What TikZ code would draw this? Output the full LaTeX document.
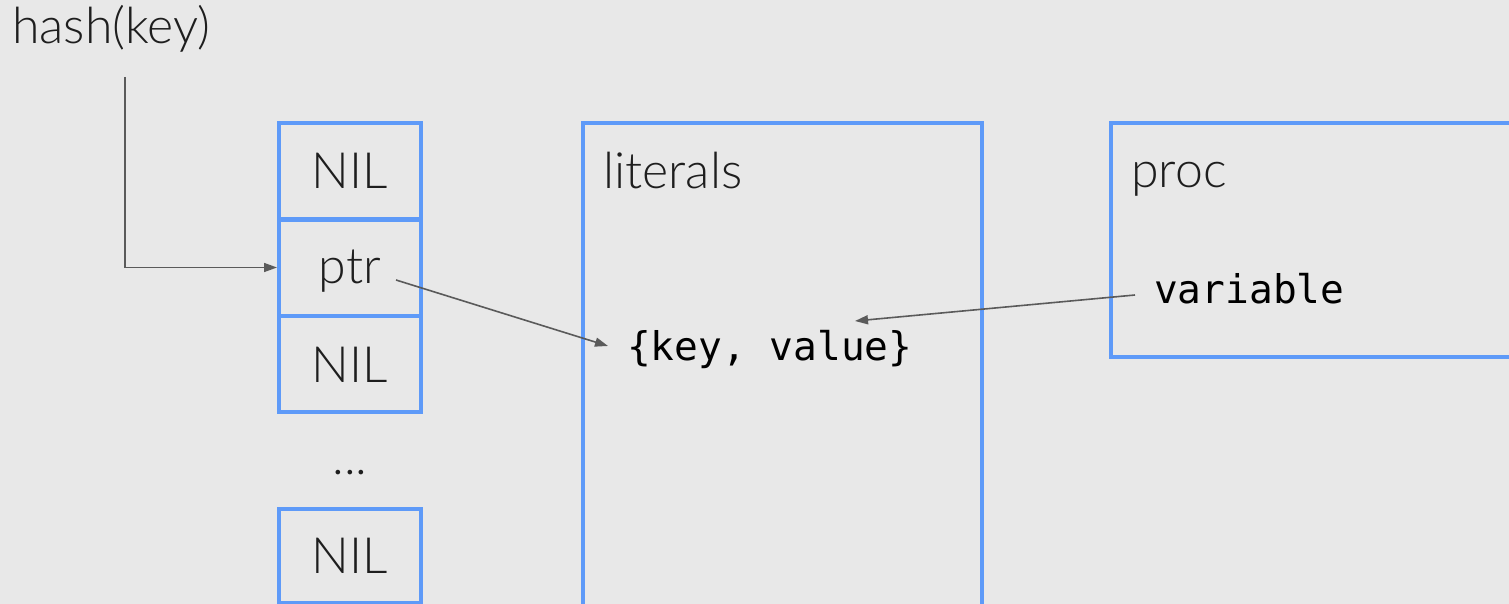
\documentclass[tikz,border=0pt]{standalone}
\usepackage{fontspec}
\setmainfont{Lato Light}
\newfontfamily\codefont{DejaVu Sans Mono}
\usetikzlibrary{arrows.meta}
\definecolor{bg}{HTML}{E8E8E8}
\definecolor{cellblue}{HTML}{5E9AF8}
\definecolor{wire}{HTML}{5A5A5A}
\definecolor{ink}{HTML}{1E1E1E}

\begin{document}
\begin{tikzpicture}[x=1pt,y=-1pt,
  labelfont/.style={font=\fontsize{50}{60}\selectfont, text=ink},
  codetext/.style={font=\codefont\fontsize{39.5}{46}\selectfont, text=black},
  cell/.style={draw=cellblue, line width=4pt, minimum width=142pt,
    minimum height=96pt, inner sep=0pt, text height=36pt, text depth=0pt, labelfont},
  region/.style={draw=cellblue, line width=4pt, inner sep=0pt},
  tag/.style={labelfont, anchor=base west, inner sep=0pt},
  conn/.style={draw=wire, line width=1.6pt, -{Triangle[length=13pt,width=9pt]}}
]
% canvas
\fill[bg] (0,0) rectangle (1509,604);
\clip (0,0) rectangle (1509,604);

% key label and the hash table column
\node[tag] (hash) at (12,44) {hash(key)};
\node[cell] (c0) at (350,171) {NIL};
\node[cell] (c1) at (350,267.5) {};
\node[labelfont, anchor=base, inner sep=0pt] (ptr) at (350,283) {ptr};
\node[cell] (c2) at (350,364) {NIL};
\node[labelfont, anchor=base, inner sep=0pt] (dots) at (350,474) {...};
\node[cell, minimum height=94pt] (cn) at (350,555.5) {NIL};

% memory regions
\node[region, minimum width=399pt, minimum height=500pt] (lit) at (782.5,373) {};
\node[tag] (littag) at (603,189) {literals};
\node[region, minimum width=420pt, minimum height=234pt] (proc) at (1321,240) {};
\node[tag] (proctag) at (1131,188) {proc};

% contents
\node[codetext, anchor=base west, inner ysep=0pt, inner xsep=19pt] (kv) at (608,360) {\{key, value\}};
\node[codetext, anchor=base west, inner ysep=0pt, inner xsep=19pt] (var) at (1135,303) {variable};

% connectors
\coordinate (hstart) at (125,77);
\coordinate (ptrout) at (396,280);
\coordinate (kvin) at (608,346);
\coordinate (varout) at (1135,295);
\coordinate (valtip) at (855,321);
\draw[conn] (hstart) |- (c1.west);
\draw[conn] (ptrout) -- (kvin);
\draw[conn] (varout) -- (valtip);
\end{tikzpicture}
\end{document}
